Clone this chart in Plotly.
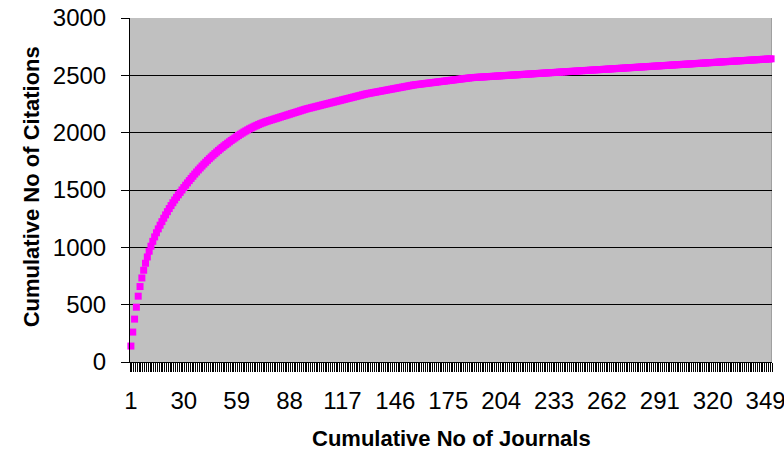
import plotly.graph_objects as go
from itertools import accumulate

# Citations contributed by each journal (ranked)
citations_per_journal = [
    139, 122, 113, 104,
    96, 84, 75, 67, 61, 55, 50, 44,
    42, 39, 36, 34, 32, 31, 30, 29, 28, 27, 26, 25, 24, 23, 22, 21, 21,
    21, 21, 20, 20, 19, 19, 19, 18, 18, 17, 17, 17, 16, 16, 15, 15, 15,
    14, 14, 14, 13, 13, 13, 12, 12, 12, 12, 11, 11, 11, 11, 10, 10,
    10, 9, 9, 9, 8, 8, 8, 7, 7, 7, 6, 6, 6, 5, 5,
    5, 5, 5, 5, 5, 5, 5, 5, 5, 5,
    5, 5, 5, 5, 5, 5, 5, 5, 5, 5,
    4, 4, 4, 4, 4, 4, 4, 4,
    4, 4, 4, 4, 4, 4, 4, 4, 4, 4,
    4, 4, 4, 4, 4, 4, 4, 4, 4, 4,
    4, 4, 4, 4, 4,
    3, 3, 3, 3, 3, 3, 3, 3, 3, 3,
    3, 3, 3, 3, 3, 3, 3, 3, 3, 3,
    3, 3, 3, 3, 3, 3,
    2, 2, 2, 2, 2, 2, 2, 2, 2, 2,
    2, 2, 2, 2, 2, 2, 2, 2, 2, 2,
    2, 2, 2, 2, 2, 2, 2, 2, 2, 2,
    2, 2,
    1, 1, 1, 1, 1, 1, 1, 1, 1, 1,
    1, 1, 1, 1, 1, 1, 1, 1, 1, 1,
    1, 1, 1, 1, 1, 1, 1, 1, 1, 1,
    1, 1, 1, 1, 1, 1, 1, 1, 1, 1,
    1, 1, 1, 1, 1, 1, 1, 1, 1, 1,
    1, 1, 1, 1, 1, 1, 1, 1, 1, 1,
    1, 1, 1, 1, 1, 1, 1, 1, 1, 1,
    1, 1, 1, 1, 1, 1, 1, 1, 1, 1,
    1, 1, 1, 1, 1, 1, 1, 1, 1, 1,
    1, 1, 1, 1, 1, 1, 1, 1, 1, 1,
    1, 1, 1, 1, 1, 1, 1, 1, 1, 1,
    1, 1, 1, 1, 1, 1, 1, 1, 1, 1,
    1, 1, 1, 1, 1, 1, 1, 1, 1, 1,
    1, 1, 1, 1, 1, 1, 1, 1, 1, 1,
    1, 1, 1, 1, 1, 1, 1, 1, 1, 1,
    1, 1, 1, 1, 1, 1, 1, 1, 1, 1,
    1, 1, 1, 1,
]

journal_ranks = list(range(1, len(citations_per_journal) + 1))
cumulative_citations = list(accumulate(citations_per_journal))

x_tick_values = [1, 30, 59, 88, 117, 146, 175, 204, 233, 262, 291, 320, 349]
x_tick_labels = [str(v) for v in x_tick_values]
y_tick_values = [0, 500, 1000, 1500, 2000, 2500, 3000]
y_grid_values = [500, 1000, 1500, 2000, 2500]

n = len(journal_ranks)
font_family = "Liberation Sans, Arial, sans-serif"

fig = go.Figure(
    go.Scatter(
        x=journal_ranks,
        y=cumulative_citations,
        mode="markers",
        marker=dict(symbol="square", size=7, color="#ff00ff", line=dict(width=0)),
        cliponaxis=False,
        hoverinfo="x+y",
    )
)

fig.update_layout(
    width=784,
    height=453,
    margin=dict(l=130, r=12, t=18, b=91, autoexpand=False),
    paper_bgcolor="white",
    plot_bgcolor="#c0c0c0",
    showlegend=False,
    font=dict(family=font_family, color="black"),
    xaxis=dict(
        range=[0.5, n + 0.5],
        tickmode="array",
        tickvals=x_tick_values,
        ticktext=x_tick_labels,
        ticks="",
        showgrid=False,
        zeroline=False,
        showline=True,
        linecolor="black",
        linewidth=1,
        tickfont=dict(size=24, family=font_family, color="black"),
        ticklabelstandoff=17,
        ticklabeloverflow="allow",
        minor=dict(
            tickmode="linear",
            tick0=0.5,
            dtick=1,
            ticks="outside",
            ticklen=9,
            tickwidth=1.3,
            tickcolor="black",
            showgrid=False,
        ),
        fixedrange=True,
    ),
    yaxis=dict(
        range=[0, 3000],
        tickmode="array",
        tickvals=y_tick_values,
        ticks="outside",
        ticklen=8,
        tickwidth=1,
        tickcolor="black",
        showgrid=False,
        zeroline=False,
        showline=True,
        linecolor="black",
        linewidth=1,
        tickfont=dict(size=24, family=font_family, color="black"),
        ticklabelstandoff=10,
        minor=dict(
            tickmode="array",
            tickvals=y_grid_values,
            showgrid=True,
            gridcolor="black",
            gridwidth=1,
            ticks="",
        ),
        fixedrange=True,
    ),
    shapes=[
        dict(
            type="line",
            xref="x",
            yref="paper",
            x0=n + 0.5,
            x1=n + 0.5,
            y0=0,
            y1=1,
            line=dict(color="#808080", width=1),
            layer="below",
        )
    ],
    annotations=[
        dict(
            text="Cumulative No of Journals",
            xref="paper",
            yref="paper",
            x=0.5,
            y=-0.223,
            xanchor="center",
            yanchor="middle",
            showarrow=False,
            font=dict(size=22, family=font_family, color="black", weight="bold"),
        ),
        dict(
            text="Cumulative No of Citations",
            xref="paper",
            yref="paper",
            x=-0.153,
            y=0.51,
            xanchor="center",
            yanchor="middle",
            textangle=-90,
            showarrow=False,
            font=dict(size=22, family=font_family, color="black", weight="bold"),
        ),
    ],
)

fig.write_html(
    "out.html",
    config={"displayModeBar": False},
    post_script="document.body.style.margin='0';document.body.style.overflow='hidden';",
)
